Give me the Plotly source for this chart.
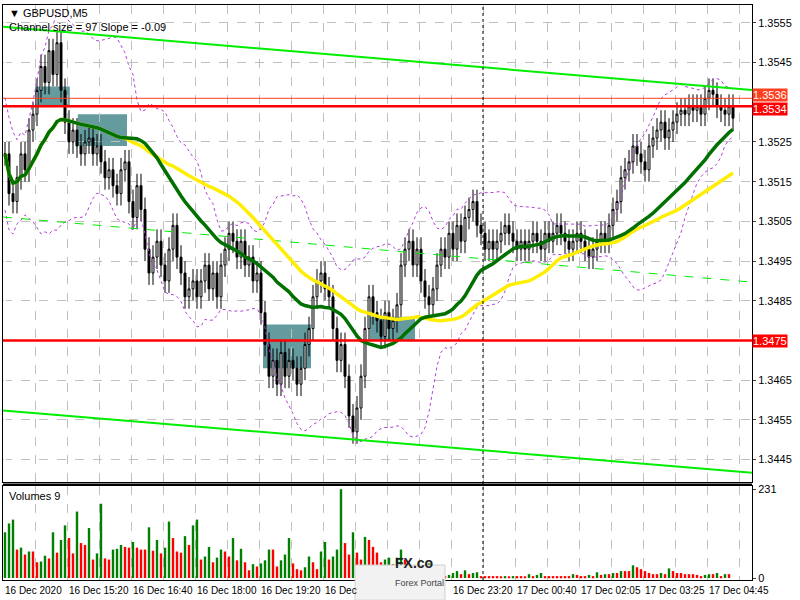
import pandas as pd
import plotly.graph_objects as go

# closes of the M5 bars
closes = [1.3522, 1.3512, 1.3510,
          1.3516, 1.3522, 1.3518, 1.3528, 1.3532,
          1.3538, 1.3544, 1.3540, 1.3548,
          1.3542, 1.3550, 1.3538, 1.3530,
          1.3525, 1.3528, 1.3524, 1.3522, 1.3525,
          1.3526, 1.3522, 1.3524, 1.3520, 1.3516, 1.3518, 1.3514,
          1.3512, 1.3518, 1.3520, 1.3510, 1.3506, 1.3514,
          1.3508, 1.3498, 1.3492, 1.3496, 1.3500,
          1.3494, 1.3490, 1.3498, 1.3504, 1.3496,
          1.3492, 1.3486, 1.3488, 1.3490, 1.3486,
          1.3490, 1.3494, 1.3488, 1.3492, 1.3486, 1.3494, 1.3498, 1.3502, 1.3500,
          1.3496, 1.3500, 1.3494, 1.3496, 1.3490, 1.3492,
          1.3482, 1.3474, 1.3466,
          1.3470, 1.3464, 1.3472, 1.3466, 1.3470, 1.3468, 1.3464, 1.3468, 1.3474, 1.3478,
          1.3486, 1.3490, 1.3492, 1.3488,
          1.3486, 1.3478, 1.3470, 1.3474,
          1.3466, 1.3456, 1.3452, 1.3458,
          1.3466, 1.3478, 1.3486, 1.3482,
          1.3480, 1.3476, 1.3482, 1.3478, 1.3480, 1.3484, 1.3494, 1.3498,
          1.3500, 1.3494, 1.3498, 1.3490, 1.3486, 1.3484,
          1.3488, 1.3494, 1.3498, 1.3496, 1.3502,
          1.3498, 1.3504, 1.3500, 1.3506, 1.3508, 1.3510, 1.3504, 1.3502,
          1.3498, 1.3500, 1.3498, 1.3500, 1.3502, 1.3504, 1.3502, 1.3500, 1.3498, 1.3500,
          1.3498, 1.3500, 1.3502, 1.3500, 1.3498, 1.3502, 1.3500, 1.3502, 1.3504, 1.3502,
          1.3500, 1.3498, 1.3500, 1.3502, 1.3500, 1.3498, 1.3496, 1.3498, 1.3500, 1.3502,
          1.3500, 1.3504, 1.3508, 1.3510, 1.3516,
          1.3518, 1.3520, 1.3524, 1.3522, 1.3520,
          1.3518, 1.3524, 1.3526, 1.3528, 1.3530,
          1.3526, 1.3528, 1.3530, 1.3532, 1.3533,
          1.3532, 1.3534, 1.3533, 1.3534, 1.3532,
          1.3536, 1.3538, 1.3537, 1.3534, 1.3533,
          1.3532, 1.3534, 1.3531]

volumes = [119, 142, 152, 74, 79, 61, 69, 69, 41, 43, 58, 51, 119, 66, 99, 137, 104, 64, 173, 91,
           86, 130, 48, 64, 193, 51, 48, 74, 76, 86, 81, 79, 94, 79, 74, 74, 132, 71, 99, 64,
           79, 147, 104, 69, 66, 109, 86, 137, 152, 48, 56, 81, 41, 53, 74, 69, 56, 104, 46, 76,
           41, 20, 36, 30, 38, 46, 74, 74, 30, 46, 61, 104, 38, 23, 20, 28, 56, 41, 23, 69,
           94, 48, 56, 74, 231, 91, 61, 119, 66, 48, 107, 99, 81, 66, 41, 48, 53, 36,
           53, 74, 48, 28, 13, 28, 28, 25, 38, 28, 20, 20, 5, 8, 13, 18, 10, 20, 10, 13, 15,
           5, 5, 5, 5, 5, 3, 5, 3, 5, 5, 5, 3, 10, 5, 8, 13, 5, 5, 5, 5, 5, 5, 5, 10, 8, 5, 5,
           8, 5, 15, 8, 10, 10, 13, 13, 18, 18, 18, 33, 28, 23, 18, 13, 10, 10, 13, 10, 25, 18,
           13, 13, 10, 10, 10, 8, 5, 8, 10, 10, 13, 5, 10, 10]

time_labels = ["16 Dec 2020", "16 Dec 15:20", "16 Dec 16:40", "16 Dec 18:00", "16 Dec 19:20",
               "16 Dec", "", "16 Dec 23:20", "17 Dec 00:40", "17 Dec 02:05", "17 Dec 03:25",
               "17 Dec 04:45"]
price_ticks = [1.3445, 1.3455, 1.3465, 1.3485, 1.3495, 1.3505, 1.3515, 1.3525, 1.3545, 1.3555]

# channel: start bar, end bar, start price, end price
chan_x = [-0.5, 186.75]
chan_up = [1.35540, 1.35381]
chan_mid = [1.35061, 1.34897]
chan_low = [1.34574, 1.34417]

levels = [1.3536, 1.3534, 1.3475]
level_colors = ["#ff4020", "#ff0000", "#ff0000"]

# highlighted zones: x0, x1 (bars), y0, y1 (price)
zones = [(7.5, 16.2, 1.3534, 1.3539), (18.2, 30.5, 1.3524, 1.3532),
         (64.5, 76.5, 1.3468, 1.3479), (91.2, 102.5, 1.3475, 1.3481)]

FONT = "Liberation Sans"

s = pd.Series(closes)
opens = [closes[0]] + closes[:-1]
highs = [max(o, c) + 0.0003 for o, c in zip(opens, closes)]
lows = [min(o, c) - 0.0003 for o, c in zip(opens, closes)]
bars = list(range(len(closes)))
ma_fast = s.rolling(30, min_periods=1).mean()
ma_slow = s.rolling(50, min_periods=1).mean()
mid = s.rolling(20, min_periods=1).mean()
sd = s.rolling(20, min_periods=2).std().bfill()

fig = go.Figure()
dot = dict(color="#b040d8", width=1, dash="dot")
for band in [mid + 2 * sd, mid - 2 * sd]:
    fig.add_trace(go.Scatter(x=bars, y=band, mode="lines", line=dot, hoverinfo="skip"))
fig.add_trace(go.Scatter(x=chan_x, y=chan_up, mode="lines", line=dict(color="#00ee00", width=2)))
fig.add_trace(go.Scatter(x=chan_x, y=chan_low, mode="lines", line=dict(color="#00ee00", width=2)))
fig.add_trace(go.Scatter(x=chan_x, y=chan_mid, mode="lines", line=dict(color="#00ee00", width=1, dash="dash")))
fig.add_trace(go.Candlestick(x=bars, open=opens, high=highs, low=lows, close=closes,
                             increasing=dict(line=dict(color="black", width=1), fillcolor="white"),
                             decreasing=dict(line=dict(color="black", width=1), fillcolor="black"),
                             whiskerwidth=0))
fig.add_trace(go.Scatter(x=bars, y=ma_slow, mode="lines", line=dict(color="#ffee00", width=3.5)))
fig.add_trace(go.Scatter(x=bars, y=ma_fast, mode="lines", line=dict(color="#007000", width=3.5)))

vol_colors = ["#008000"] + ["#008000" if v > p else "#ff0000" for p, v in zip(volumes[:-1], volumes[1:])]
fig.add_trace(go.Bar(x=list(range(len(volumes))), y=volumes, marker_color=vol_colors,
                     marker_line_width=0, width=0.6, xaxis="x2", yaxis="y2"))

for x0, x1, y0, y1 in zones:
    fig.add_shape(type="rect", x0=x0, x1=x1, y0=y0, y1=y1, xref="x", yref="y",
                  fillcolor="rgba(60,130,135,0.8)", line_width=0, layer="below")
for lv, col in zip(levels, level_colors):
    fig.add_shape(type="line", x0=0, x1=1, xref="paper", y0=lv, y1=lv, yref="y",
                  line=dict(color=col, width=1 if lv == 1.3536 else 2.5))
    fig.add_annotation(x=1, xref="paper", xanchor="left", y=lv, yref="y", text=f"{lv:.4f}",
                       yshift=3 if lv == 1.3536 else (-3 if lv == 1.3534 else 0),
                       showarrow=False, bgcolor=col, font=dict(color="white", size=11),
                       borderpad=0)
fig.add_shape(type="line", x0=119.5, x1=119.5, xref="x", y0=0, y1=1, yref="paper",
              line=dict(color="black", width=1, dash="dot"))
fig.add_shape(type="line", x0=0, x1=1, xref="paper", y0=0.166, y1=0.166, yref="paper",
              line=dict(color="black", width=2))

grid = dict(showgrid=True, gridcolor="#c0c0c0", griddash="dash", gridwidth=1)
fig.update_layout(
    width=800, height=600, margin=dict(l=3, r=48, t=5, b=20),
    paper_bgcolor="white", plot_bgcolor="white", showlegend=False,
    font=dict(family=FONT, size=11, color="black"),
    xaxis=dict(range=[-0.5, 186.75], domain=[0, 1], anchor="y", rangeslider_visible=False,
               tickvals=[-0.5 + 8 * k for k in range(24)], showticklabels=False,
               mirror=True, showline=True, linecolor="black", **grid),
    xaxis2=dict(range=[-0.5, 186.75], anchor="y2", matches="x",
                tickvals=[-0.5 + 8 * k for k in range(24)], showticklabels=False,
                mirror=True, showline=True, linecolor="black", **grid),
    yaxis=dict(domain=[0.17, 1], range=[1.34393, 1.35595], side="right", tickvals=price_ticks,
               ticktext=[f"{p:.4f}" for p in price_ticks], ticks="outside", ticklen=3,
               mirror=True, showline=True, linecolor="black", **grid),
    yaxis2=dict(domain=[0, 0.163], range=[-5.2, 238.8], side="right", tickvals=[0, 231],
                ticks="outside", ticklen=3, mirror=True, showline=True, linecolor="black",
                showgrid=False, zeroline=False),
)

for k, lab in enumerate(time_labels):
    fig.add_annotation(x=-0.5 + 16 * k, xref="x", y=0, yref="paper", yshift=-10, text=lab,
                       xanchor="left", yanchor="middle", showarrow=False, font=dict(size=10))
fig.add_annotation(x=0.006, xref="paper", y=1, yref="paper", yshift=0, text="▼ GBPUSD,M5",
                   xanchor="left", yanchor="top", showarrow=False, font=dict(size=11))
fig.add_annotation(x=0.006, xref="paper", y=1, yref="paper", yshift=-14,
                   text="Channel size = 97 Slope = -0.09",
                   xanchor="left", yanchor="top", showarrow=False, font=dict(size=11))
fig.add_annotation(x=0.006, xref="paper", y=0.163, yref="paper", yshift=-2, text="Volumes 9",
                   xanchor="left", yanchor="top", showarrow=False, font=dict(size=11))

# logo
fig.add_shape(type="rect", x0=87.5, x1=110, xref="x", y0=-0.035, y1=0.026, yref="paper",
              fillcolor="#f2f2f2", line=dict(color="#d0d0d0", width=1))
fig.add_annotation(x=97, xref="x", y=0.012, yref="paper", text="<b>FX.co</b>", showarrow=False,
                   xanchor="left", font=dict(size=14, color="#222"))
fig.add_annotation(x=97, xref="x", y=-0.018, yref="paper", text="Forex Portal", showarrow=False,
                   xanchor="left", font=dict(size=9, color="#444"))

fig.write_html("out.html", config={"displayModeBar": False},
               post_script="document.body.style.margin='0';document.body.style.overflow='hidden';")
